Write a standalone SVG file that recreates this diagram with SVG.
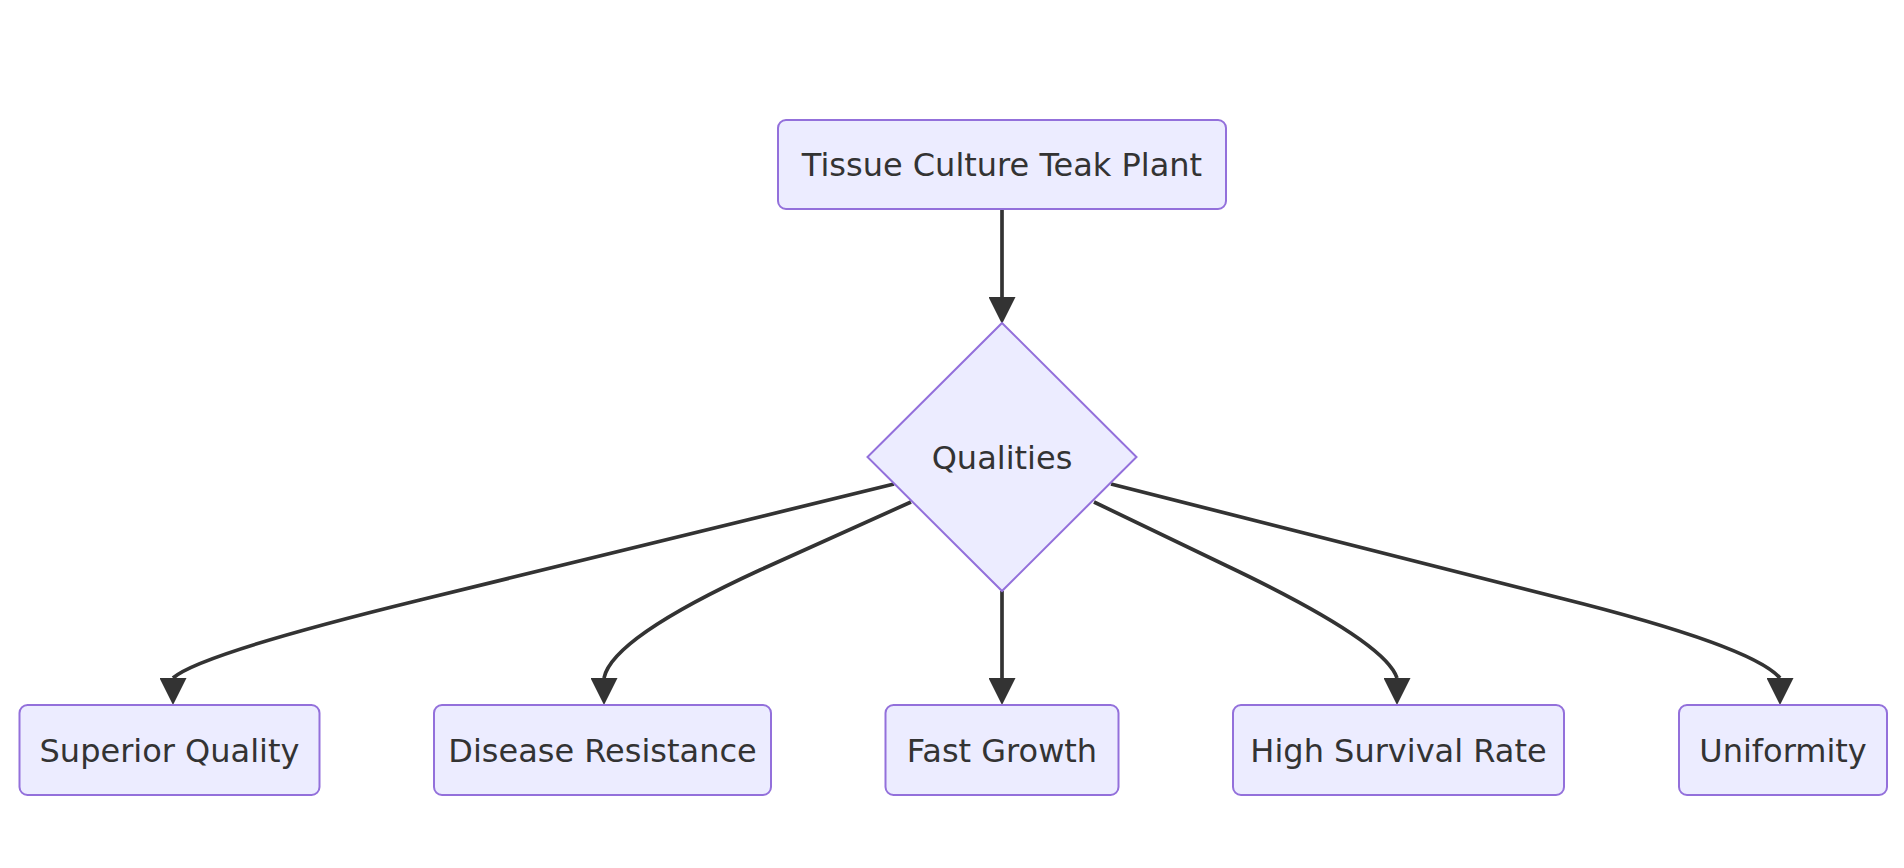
<svg xmlns="http://www.w3.org/2000/svg" width="1904" height="868" viewBox="0 0 1904 868">
<defs>
<style>
.node rect, .node polygon { fill: #ECECFF; stroke: #9370DB; stroke-width: 2; }
.node text { font-family: "DejaVu Sans", "Liberation Sans", sans-serif; font-size: 32px; fill: #333333; text-anchor: middle; }
.edge { fill: none; stroke: #333333; stroke-width: 3.7; marker-end: url(#arrow); }
</style>
<marker id="arrow" viewBox="0 0 10 10" refX="0" refY="5" markerUnits="userSpaceOnUse" markerWidth="27" markerHeight="27" orient="90">
<path d="M0,0 L10,5 L0,10 z" fill="#333333"/>
</marker>
</defs>
<rect width="1904" height="868" fill="#ffffff"/>
<g id="connectors">
<path class="edge" d="M1002,209 L1002,297"/>
<path class="edge" d="M894,484 L420,600 Q200,654 173,678"/>
<path class="edge" d="M911,502 L760,570 Q612,638 604,678"/>
<path class="edge" d="M1094,502 L1225,565 Q1385,641 1397,678"/>
<path class="edge" d="M1002,591 L1002,678"/>
<path class="edge" d="M1111,484 L1560,598 Q1752,646 1780,678"/>
</g>
<g id="node-tissue" class="node">
<rect x="778" y="120" width="448" height="89" rx="8" ry="8"/>
<text x="1002" y="176">Tissue Culture Teak Plant</text>
</g>
<g id="node-qualities" class="node">
<polygon points="1002,323 1136.5,457 1002,591 867.5,457"/>
<text x="1002" y="468.5">Qualities</text>
</g>
<g id="node-superior" class="node">
<rect x="19.5" y="705" width="300" height="90" rx="8" ry="8"/>
<text x="169.5" y="761.5">Superior Quality</text>
</g>
<g id="node-disease" class="node">
<rect x="434" y="705" width="337" height="90" rx="8" ry="8"/>
<text x="602.5" y="761.5">Disease Resistance</text>
</g>
<g id="node-fast" class="node">
<rect x="885.5" y="705" width="233" height="90" rx="8" ry="8"/>
<text x="1002" y="761.5">Fast Growth</text>
</g>
<g id="node-survival" class="node">
<rect x="1233" y="705" width="331" height="90" rx="8" ry="8"/>
<text x="1398.5" y="761.5">High Survival Rate</text>
</g>
<g id="node-uniformity" class="node">
<rect x="1679" y="705" width="208" height="90" rx="8" ry="8"/>
<text x="1783" y="761.5">Uniformity</text>
</g>
</svg>
